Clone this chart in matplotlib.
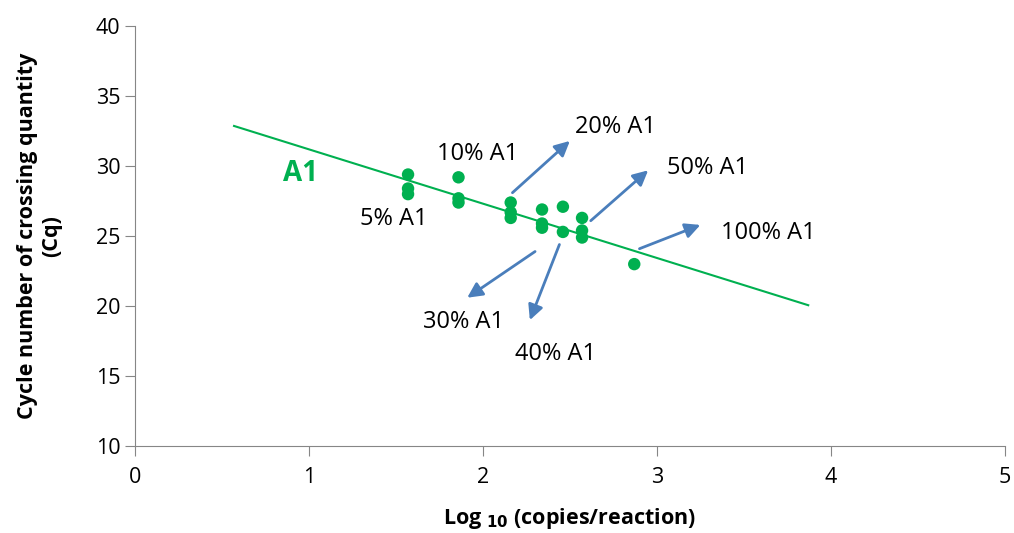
import matplotlib.pyplot as plt

# Measured Cq values per log10 copies/reaction
log_copies = [1.57, 1.57, 1.57, 1.86, 1.86, 1.86, 2.16, 2.16, 2.16,
              2.34, 2.34, 2.34, 2.46, 2.46, 2.57, 2.57, 2.57, 2.87]
cq_values = [29.4, 28.4, 28.0, 29.2, 27.7, 27.4, 27.4, 26.7, 26.3,
             26.9, 25.9, 25.6, 27.1, 25.3, 26.3, 25.4, 24.9, 23.0]

# Linear trend line
trend_slope = -3.88
trend_intercept = 35.08
trend_x = [0.57, 3.87]

# Labels: (text, text position, arrow start, arrow end)
labels = [
    ("5% A1", (1.49, 26.2), None, None),
    ("10% A1", (1.97, 30.9), None, None),
    ("20% A1", (2.76, 32.8), (2.17, 28.1), (2.50, 31.8)),
    ("50% A1", (3.29, 29.9), (2.62, 26.1), (2.95, 29.7)),
    ("100% A1", (3.64, 25.2), (2.90, 24.1), (3.25, 25.8)),
    ("30% A1", (1.89, 18.9), (2.30, 23.9), (1.91, 20.6)),
    ("40% A1", (2.42, 16.6), (2.44, 24.4), (2.27, 19.0)),
]

GREEN = "#00B050"
BLUE = "#4A7EBB"
AXIS_GREY = "#868686"
FONT = "Open Sans"

fig = plt.figure(figsize=(10.14, 5.33), dpi=100)
ax = fig.add_axes([0.133, 0.163, 0.858, 0.788])

ty = [trend_slope * x + trend_intercept for x in trend_x]
ax.plot(trend_x, ty, color=GREEN, lw=1.5, zorder=2)
ax.scatter(log_copies, cq_values, s=80, color=GREEN, edgecolors="none", zorder=3)

for text, pos, start, end in labels:
    ax.text(pos[0], pos[1], text, fontsize=17, ha="center", va="center",
            family=FONT)
    if start is not None:
        ax.annotate("", xy=end, xytext=start,
                    arrowprops=dict(arrowstyle="-|>,head_length=0.9,head_width=0.45",
                                    color=BLUE, lw=2, shrinkA=0, shrinkB=0))

ax.text(0.954, 29.5, "A1", fontsize=20, fontweight="bold", color=GREEN,
        ha="center", va="center", family=FONT)

ax.set_xlim(0, 5)
ax.set_ylim(10, 40)
ax.set_xticks(range(0, 6))
ax.set_yticks(range(10, 41, 5))

for side in ("top", "right"):
    ax.spines[side].set_visible(False)
for side in ("left", "bottom"):
    ax.spines[side].set_color(AXIS_GREY)
ax.tick_params(colors=AXIS_GREY, labelcolor="black", labelsize=15.5, length=7,
               direction="out")
ax.tick_params(axis="x", pad=8)
for lbl in ax.get_xticklabels() + ax.get_yticklabels():
    lbl.set_family(FONT)

ax.set_xlabel(r"Log $_{\mathbf{10}}$ (copies/reaction)", fontsize=15.5,
              fontweight="bold", family=FONT, labelpad=13)
ax.set_ylabel("Cycle number of crossing quantity\n(Cq)", fontsize=15.5,
              fontweight="bold", family=FONT, labelpad=24)

fig.savefig("out.png", dpi=100)
